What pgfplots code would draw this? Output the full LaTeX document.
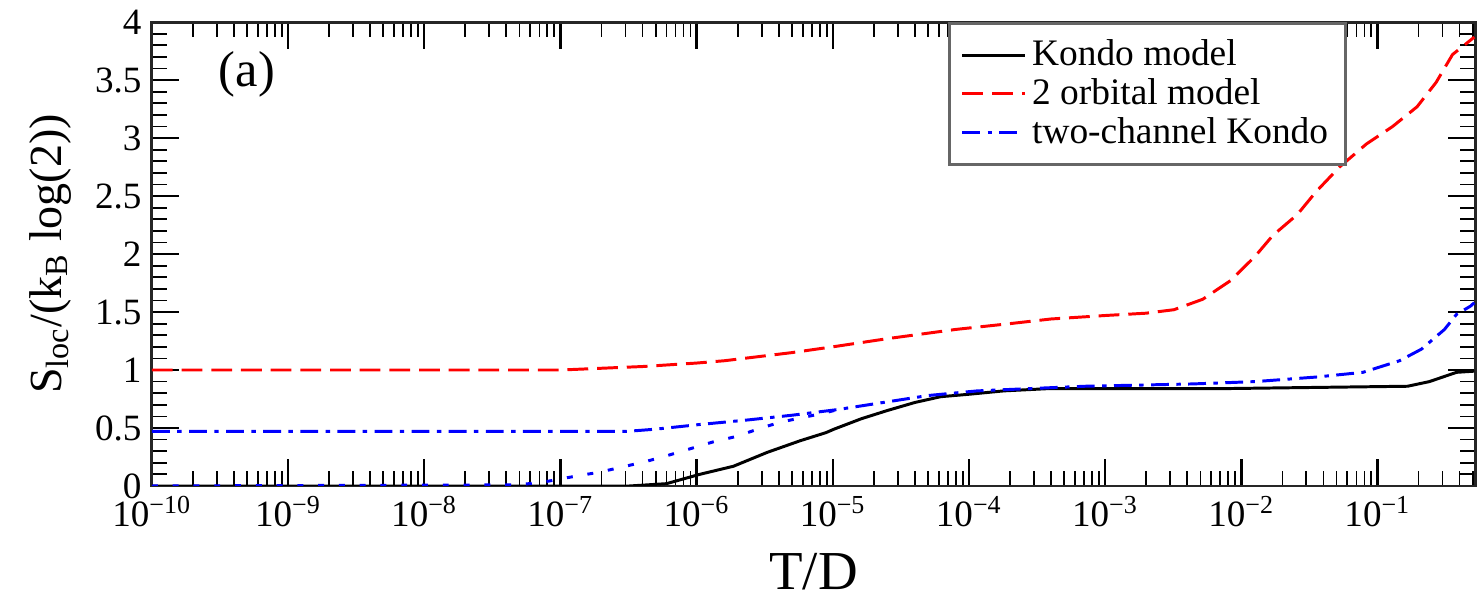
\documentclass[border=0pt]{standalone}
\usepackage{fontspec}
\setmainfont{Liberation Serif}
\usepackage{pgfplots}
\pgfplotsset{compat=1.18}

\begin{document}
\begin{tikzpicture}
\begin{axis}[
  scale only axis, width=445.8pt, height=156.3pt,
  xmode=log, xmin=1e-10, xmax=0.52, ymin=0, ymax=4,
  xtick={1e-10,1e-9,1e-8,1e-7,1e-6,1e-5,1e-4,1e-3,1e-2,1e-1},
  xticklabels={10\textsuperscript{−10},10\textsuperscript{−9},10\textsuperscript{−8},10\textsuperscript{−7},10\textsuperscript{−6},10\textsuperscript{−5},10\textsuperscript{−4},10\textsuperscript{−3},10\textsuperscript{−2},10\textsuperscript{−1}},
  minor xtick={2e-10,3e-10,4e-10,5e-10,6e-10,7e-10,8e-10,9e-10,
    2e-9,3e-9,4e-9,5e-9,6e-9,7e-9,8e-9,9e-9,
    2e-8,3e-8,4e-8,5e-8,6e-8,7e-8,8e-8,9e-8,
    2e-7,3e-7,4e-7,5e-7,6e-7,7e-7,8e-7,9e-7,
    2e-6,3e-6,4e-6,5e-6,6e-6,7e-6,8e-6,9e-6,
    2e-5,3e-5,4e-5,5e-5,6e-5,7e-5,8e-5,9e-5,
    2e-4,3e-4,4e-4,5e-4,6e-4,7e-4,8e-4,9e-4,
    2e-3,3e-3,4e-3,5e-3,6e-3,7e-3,8e-3,9e-3,
    2e-2,3e-2,4e-2,5e-2,6e-2,7e-2,8e-2,9e-2,
    2e-1,3e-1,4e-1,5e-1},
  ytick={0,0.5,1,1.5,2,2.5,3,3.5,4},
  yticklabels={0,0.5,1,1.5,2,2.5,3,3.5,4},
  minor ytick={0.1,0.2,0.3,0.4,0.6,0.7,0.8,0.9,1.1,1.2,1.3,1.4,1.6,1.7,1.8,1.9,2.1,2.2,2.3,2.4,2.6,2.7,2.8,2.9,3.1,3.2,3.3,3.4,3.6,3.7,3.8,3.9},
  tick align=inside, major tick length=9pt, minor tick length=5pt,
  tick style={draw=black, line width=0.8pt},
  minor tick style={draw=black, line width=0.6pt},
  axis line style={line width=1pt, black!85},
  ticklabel style={font=\fontsize{12.5}{14}\selectfont},
  xlabel={T/D},
  ylabel={S\textsubscript{loc}/(k\textsubscript{B} log(2))},
  every axis x label/.style={at={(axis description cs:0.5,-0.1855)}, anchor=center, font=\fontsize{18.5}{18.5}\selectfont},
  every axis y label/.style={at={(axis description cs:-0.077,0.5)}, rotate=90, anchor=center, font=\fontsize{15.5}{15.5}\selectfont},
  legend style={at={(axis description cs:0.9035,1.0)}, anchor=north east, draw=black!60, line width=1pt,
    font=\fontsize{12.6}{12.6}\selectfont, inner xsep=4pt, inner ysep=3.5pt, row sep=-1.2pt,
    cells={anchor=west}},
  legend image code/.code={\draw[#1] (0pt,0pt) -- (21pt,0pt);},
]
\addplot[black, line width=1pt] coordinates {
(1e-10,0) (1e-7,0) (3.2e-7,0.0) (6e-7,0.02) (1.05e-6,0.10) (1.86e-6,0.17)
(3.3e-6,0.29) (5.75e-6,0.39) (8.9e-6,0.46) (1.02e-5,0.49) (1.62e-5,0.58)
(2.5e-5,0.65) (4e-5,0.72) (6.2e-5,0.77) (9.8e-5,0.79) (1.8e-4,0.82)
(3.9e-4,0.84) (7.9e-3,0.84) (3.6e-2,0.85) (0.166,0.86) (0.24,0.90)
(0.38,0.98) (0.513,0.99)};
\addlegendentry{Kondo model}
\addplot[red, line width=1pt, dash pattern=on 7pt off 3pt] coordinates {
(1e-10,1.00) (1e-9,1.00) (1e-8,1.00) (1e-7,1.00) (2.5e-7,1.02) (4e-7,1.03)
(1e-6,1.06) (1.6e-6,1.08) (5e-6,1.15) (1e-5,1.20) (2.5e-5,1.27) (8e-5,1.35)
(2e-4,1.40) (4e-4,1.44) (1e-3,1.47) (2e-3,1.49) (3.2e-3,1.52) (5.2e-3,1.61)
(8.3e-3,1.77) (1.26e-2,1.98) (1.7e-2,2.16) (2.57e-2,2.34) (3.55e-2,2.54)
(5.25e-2,2.75) (8.3e-2,2.95) (0.129,3.10) (0.195,3.27) (0.269,3.48)
(0.355,3.72) (0.513,3.87)};
\addlegendentry{2 orbital model}
\addplot[blue, line width=1pt, dash pattern=on 6pt off 2.5pt on 1.5pt off 2.5pt] coordinates {
(1e-10,0.47) (1e-8,0.47) (3e-7,0.47) (5e-7,0.49) (1.05e-6,0.53) (2.4e-6,0.57)
(5e-6,0.61) (1.1e-5,0.66) (2.34e-5,0.72) (5e-5,0.78) (1.15e-4,0.82)
(2.8e-4,0.84) (7.1e-4,0.86) (1.78e-3,0.87) (4.4e-3,0.88) (1.26e-2,0.90)
(3.6e-2,0.94) (7.8e-2,0.98) (0.145,1.08) (0.21,1.18) (0.31,1.35)
(0.38,1.48) (0.48,1.55) (0.513,1.58)};
\addlegendentry{two-channel Kondo}
\addplot[blue, line width=1pt, dash pattern=on 2pt off 5pt, forget plot] coordinates {
(1e-10,0) (5e-8,0.01) (8e-8,0.04) (1.23e-7,0.08) (1.95e-7,0.12) (2.75e-7,0.16)
(4.2e-7,0.21) (6e-7,0.26) (8.9e-7,0.32) (1.32e-6,0.38) (2e-6,0.43)
(2.8e-6,0.49) (4.1e-6,0.55) (6e-6,0.59) (8.7e-6,0.63) (1.1e-5,0.66)};
\node[font=\fontsize{17}{17}\selectfont] at (rel axis cs:0.0718,0.888) {(a)};
\end{axis}
\path (current axis.east) ++(3pt,0);
\path (current axis.west) ++(-51.2pt,0);
\end{tikzpicture}
\end{document}
